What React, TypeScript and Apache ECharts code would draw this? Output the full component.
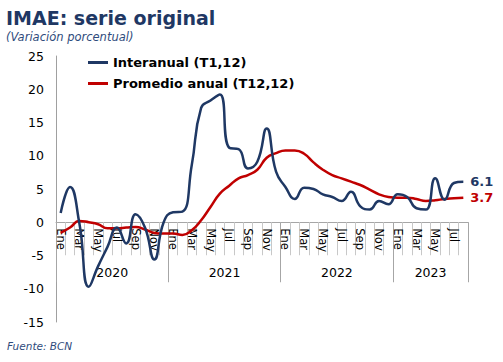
import React, { useEffect, useRef } from "react";
import * as echarts from "echarts";

const monthNames = ["Ene", "Feb", "Mar", "Abr", "May", "Jun", "Jul", "Ago", "Sep", "Oct", "Nov", "Dic"];
const years = ["2020", "2021", "2022", "2023"];
const monthsPerYear = [12, 12, 12, 8];

const interanual = [
  1.4, 5.3, -0.2, -9.7, -6.6, -3.7, -0.8, -3.2, 1.2, -0.8, -5.6, 0.0,
  1.5, 1.6, 8.6, 17.2, 18.3, 19.2, 11.2, 11.0, 8.1, 9.1, 14.1, 7.6,
  5.3, 3.5, 5.2, 5.0, 4.2, 3.8, 3.2, 4.6, 2.4, 1.9, 3.2, 2.7,
  4.2, 3.8, 2.1, 1.9, 6.6, 3.4, 5.9, 6.1,
];

const promedioAnual = [
  -1.6, -0.8, 0.2, 0.0, -0.3, -0.9, -0.9, -0.8, -0.7, -1.1, -1.6, -1.7,
  -1.7, -1.9, -1.2, 0.3, 2.3, 4.3, 5.5, 6.6, 7.1, 7.9, 9.7, 10.4,
  10.8, 10.8, 10.3, 9.0, 7.9, 7.1, 6.6, 6.1, 5.6, 4.9, 4.2, 3.8,
  3.7, 3.7, 3.5, 3.2, 3.3, 3.5, 3.6, 3.7,
];

const seriesNames = ["Interanual (T1,12)", "Promedio anual (T12,12)"];
const yMin = -15;
const yMax = 25;
const yInterval = 5;

const categories: string[] = [];
const yearStarts: number[] = [];
const yearMids: number[] = [];
{
  let idx = 0;
  years.forEach((y, k) => {
    yearStarts.push(idx);
    yearMids.push(idx + monthsPerYear[k] / 2 - 1);
    for (let m = 0; m < monthsPerYear[k]; m++) {
      categories.push(monthNames[m] + "-" + y);
      idx++;
    }
  });
}

const W = 503;
const H = 362;
const FONT = "DejaVu Sans";
const gridLeft = 56;
const gridRight = 35;
const gridTop = 56;
const gridBottom = 40;
const bandWidth = (W - gridLeft - gridRight) / categories.length;

export default function App() {
  const ref = useRef<HTMLDivElement>(null);
  useEffect(() => {
    document.body.style.margin = "0";
    if (!ref.current) return;
    const chart = echarts.init(ref.current, undefined, { renderer: "svg" });
    const option: any = {
      animation: false,
      textStyle: { fontFamily: FONT },
      title: {
        text: "IMAE: serie original",
        subtext: "(Variación porcentual)",
        left: 6,
        top: 8,
        itemGap: 4,
        padding: 0,
        textStyle: { fontFamily: FONT, fontSize: 19, fontWeight: "bold", color: "#1f3864" },
        subtextStyle: { fontFamily: FONT, fontSize: 11.5, fontStyle: "italic", color: "#2f4b7c" },
      },
      legend: {
        orient: "vertical",
        left: 88,
        top: 56,
        itemGap: 8,
        itemWidth: 20,
        itemHeight: 3,
        icon: "rect",
        padding: 0,
        data: seriesNames,
        textStyle: { fontFamily: FONT, fontSize: 13, fontWeight: "bold", color: "#000" },
      },
      grid: [
        { left: gridLeft, right: gridRight, top: gridTop, bottom: gridBottom, containLabel: false },
        { left: gridLeft, right: gridRight, top: 222, height: 60, containLabel: false },
      ],
      xAxis: [
        {
          type: "category",
          gridIndex: 0,
          data: categories,
          boundaryGap: true,
          show: false,
          axisLine: { onZero: false },
        },
        {
          type: "category",
          gridIndex: 1,
          data: categories,
          position: "top",
          boundaryGap: true,
          z: 0,
          axisLine: { show: true, onZero: false, lineStyle: { color: "#a6a6a6", width: 1 } },
          axisTick: { show: true, inside: true, interval: 0, length: 33, lineStyle: { color: "#c8c8c8", width: 1 } },
          axisLabel: {
            inside: true,
            interval: 1,
            rotate: 90,
            margin: 6,
            fontFamily: FONT,
            fontSize: 11.5,
            color: "#000",
            formatter: (v: string) => v.split("-")[0],
          },
          splitLine: { show: false },
        },
        {
          type: "category",
          gridIndex: 1,
          data: categories,
          position: "top",
          boundaryGap: true,
          z: 0,
          axisLine: { show: false, onZero: false },
          axisTick: {
            show: true,
            inside: true,
            interval: (i: number) => yearStarts.indexOf(i) >= 0,
            length: 60,
            lineStyle: { color: "#a6a6a6", width: 1 },
          },
          axisLabel: {
            inside: true,
            interval: (i: number) => yearMids.indexOf(i) >= 0,
            margin: 44,
            fontFamily: FONT,
            fontSize: 12.5,
            color: "#000",
            padding: [0, 0, 0, bandWidth],
            formatter: (v: string) => v.split("-")[1],
          },
          splitLine: { show: false },
        },
      ],
      yAxis: [
        {
          type: "value",
          gridIndex: 0,
          min: yMin,
          max: yMax,
          interval: yInterval,
          z: 0,
          axisLine: { show: true, lineStyle: { color: "#a0a0a0", width: 1 } },
          axisTick: { show: false },
          splitLine: { show: false },
          axisLabel: { fontFamily: FONT, fontSize: 12.5, color: "#000", margin: 12 },
        },
        {
          type: "value",
          gridIndex: 1,
          min: 0,
          max: 1,
          show: false,
          splitLine: { show: false },
        },
      ],
      series: [
        {
          name: seriesNames[0],
          type: "line",
          xAxisIndex: 0,
          yAxisIndex: 0,
          data: interanual,
          smooth: true,
          showSymbol: false,
          color: "#1f3864",
          lineStyle: { width: 2.5, color: "#1f3864" },
          endLabel: {
            show: true,
            distance: 7,
            formatter: (p: any) => Number(p.value).toFixed(1),
            fontFamily: FONT,
            fontSize: 13,
            fontWeight: "bold",
            color: "#1f3864",
          },
          z: 6,
        },
        {
          name: seriesNames[1],
          type: "line",
          xAxisIndex: 0,
          yAxisIndex: 0,
          data: promedioAnual,
          smooth: true,
          showSymbol: false,
          color: "#c00000",
          lineStyle: { width: 2.5, color: "#c00000" },
          endLabel: {
            show: true,
            distance: 7,
            formatter: (p: any) => Number(p.value).toFixed(1),
            fontFamily: FONT,
            fontSize: 13,
            fontWeight: "bold",
            color: "#c00000",
          },
          z: 5,
        },
      ],
      graphic: [
        {
          type: "text",
          left: 7,
          top: 340,
          style: {
            text: "Fuente: BCN",
            font: "italic 10.5px 'DejaVu Sans'",
            fill: "#2f4b7c",
          },
        },
      ],
    };
    chart.setOption(option);
    // place the category band exactly on the y = 0 line of the value axis
    const y0 = chart.convertToPixel({ yAxisIndex: 0 }, 0) as number;
    if (typeof y0 === "number" && isFinite(y0)) {
      chart.setOption({ grid: [{}, { top: y0 }] });
    }
    return () => chart.dispose();
  }, []);
  return <div ref={ref} style={{ width: W, height: H }} />;
}
